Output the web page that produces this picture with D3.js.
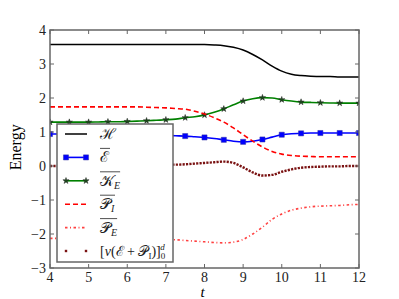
<!DOCTYPE html>
<html>
<head>
<meta charset="utf-8">
<script src="https://cdn.jsdelivr.net/npm/d3@7"></script>
<style>
  body { margin: 0; background: #fff; }
</style>
</head>
<body>
<svg id="chart" width="399" height="299" font-family="'Liberation Serif', 'DejaVu Serif', serif"></svg>
<script>
var tValues = [4, 4.25, 4.5, 4.75, 5, 5.25, 5.5, 5.75, 6, 6.25, 6.5, 6.75, 7, 7.25, 7.5, 7.75,
  8, 8.25, 8.5, 8.75, 9, 9.25, 9.5, 9.75, 10, 10.25, 10.5, 10.75, 11, 11.25, 11.5, 11.75, 12];

var hamiltonian = [3.57, 3.57, 3.57, 3.57, 3.57, 3.57, 3.57, 3.57, 3.57, 3.57, 3.57, 3.57, 3.57, 3.57, 3.57, 3.57,
  3.57, 3.56, 3.54, 3.49, 3.41, 3.28, 3.12, 2.94, 2.79, 2.70, 2.66, 2.64, 2.63, 2.63, 2.62, 2.62, 2.62];
var energyMean = [0.94, 0.94, 0.94, 0.94, 0.94, 0.94, 0.93, 0.93, 0.93, 0.93, 0.92, 0.91, 0.90, 0.89, 0.88, 0.86,
  0.84, 0.81, 0.77, 0.73, 0.71, 0.73, 0.78, 0.85, 0.92, 0.95, 0.96, 0.97, 0.97, 0.97, 0.97, 0.97, 0.97];
var kineticE = [1.29, 1.29, 1.29, 1.29, 1.29, 1.295, 1.30, 1.30, 1.31, 1.32, 1.33, 1.345, 1.36, 1.38, 1.42, 1.45,
  1.50, 1.58, 1.68, 1.80, 1.91, 1.98, 2.01, 2.00, 1.95, 1.91, 1.88, 1.87, 1.86, 1.855, 1.85, 1.85, 1.85];
var potentialI = [1.74, 1.74, 1.74, 1.74, 1.74, 1.74, 1.74, 1.74, 1.74, 1.74, 1.73, 1.72, 1.71, 1.69, 1.67, 1.61,
  1.53, 1.42, 1.29, 1.12, 0.92, 0.73, 0.56, 0.43, 0.35, 0.31, 0.29, 0.28, 0.27, 0.27, 0.27, 0.27, 0.27];
var potentialE = [-2.13, -2.13, -2.13, -2.14, -2.14, -2.14, -2.14, -2.15, -2.15, -2.15, -2.15, -2.16, -2.16, -2.17, -2.19, -2.21,
  -2.23, -2.25, -2.26, -2.24, -2.16, -2.00, -1.80, -1.57, -1.41, -1.30, -1.24, -1.20, -1.18, -1.17, -1.16, -1.14, -1.13];
var fluxTerm = [0.00, 0.00, 0.01, 0.01, 0.01, 0.01, 0.02, 0.02, 0.02, 0.03, 0.03, 0.03, 0.04, 0.04, 0.05, 0.07,
  0.09, 0.11, 0.13, 0.09, -0.04, -0.19, -0.28, -0.26, -0.17, -0.10, -0.05, -0.03, -0.02, -0.01, -0.01, 0.00, 0.00];

var xTicks = [4, 5, 6, 7, 8, 9, 10, 11, 12];
var yTicks = [-3, -2, -1, 0, 1, 2, 3, 4];

var serif = "'Liberation Serif', 'DejaVu Serif', serif";
var svg = d3.select("#chart"),
  margin = {left: 50, top: 30, right: 40, bottom: 31},
  width = 399 - margin.left - margin.right,
  height = 299 - margin.top - margin.bottom;

var x = d3.scaleLinear().domain([4, 12]).range([margin.left, margin.left + width]);
var y = d3.scaleLinear().domain([-3, 4]).range([margin.top + height, margin.top]);

function series(vals) {
  return vals.map(function(v, i) { return {t: tValues[i], v: v}; });
}

var line = d3.line()
  .x(function(d) { return x(d.t); })
  .y(function(d) { return y(d.v); })
  .curve(d3.curveMonotoneX);

svg.append("clipPath").attr("id", "clip").append("rect")
  .attr("x", margin.left).attr("y", margin.top).attr("width", width).attr("height", height);
var plot = svg.append("g").attr("clip-path", "url(#clip)");

var squareMark = d3.symbol().type(d3.symbolSquare).size(26),
  starMark = d3.symbol().type(d3.symbolStar).size(12);

plot.append("path").datum(series(hamiltonian)).attr("d", line)
  .attr("fill", "none").attr("stroke", "#000").attr("stroke-width", 1.5);

plot.append("path").datum(series(energyMean)).attr("d", line)
  .attr("fill", "none").attr("stroke", "#0000ff").attr("stroke-width", 1.6);
plot.selectAll(".sq").data(series(energyMean).filter(function(d, i) { return i % 2 == 0; }))
  .enter().append("path").attr("class", "sq")
  .attr("d", squareMark)
  .attr("transform", function(d) { return "translate(" + x(d.t) + "," + y(d.v) + ")"; })
  .attr("fill", "#0000ff").attr("stroke", "#3030a0").attr("stroke-width", 0.5);

plot.append("path").datum(series(kineticE)).attr("d", line)
  .attr("fill", "none").attr("stroke", "#008000").attr("stroke-width", 1.6);
plot.selectAll(".star").data(series(kineticE).filter(function(d, i) { return i % 2 == 0; }))
  .enter().append("path").attr("class", "star")
  .attr("d", starMark)
  .attr("transform", function(d) { return "translate(" + x(d.t) + "," + y(d.v) + ")"; })
  .attr("fill", "#1a4a1a").attr("stroke", "#222").attr("stroke-width", 0.5);

plot.append("path").datum(series(potentialI)).attr("d", line)
  .attr("fill", "none").attr("stroke", "#ff0000").attr("stroke-width", 1.6)
  .attr("stroke-dasharray", "5,3");

plot.append("path").datum(series(potentialE)).attr("d", line)
  .attr("fill", "none").attr("stroke", "#ff2020").attr("stroke-opacity", 0.85)
  .attr("stroke-width", 1.6).attr("stroke-dasharray", "2.5,2.5,1,2.5");

plot.append("path").datum(series(fluxTerm)).attr("d", line)
  .attr("fill", "none").attr("stroke", "#7a1212").attr("stroke-width", 2.4)
  .attr("stroke-dasharray", "2.2,1.2");

// frame and ticks
var axisColor = "#666";
svg.append("rect").attr("x", margin.left).attr("y", margin.top)
  .attr("width", width).attr("height", height)
  .attr("fill", "none").attr("stroke", axisColor).attr("stroke-width", 1.5);

var ticks = svg.append("g").attr("stroke", axisColor).attr("stroke-width", 1);
xTicks.forEach(function(t) {
  ticks.append("line").attr("x1", x(t)).attr("x2", x(t))
    .attr("y1", margin.top + height).attr("y2", margin.top + height - 4);
  ticks.append("line").attr("x1", x(t)).attr("x2", x(t))
    .attr("y1", margin.top).attr("y2", margin.top + 4);
});
yTicks.forEach(function(v) {
  ticks.append("line").attr("x1", margin.left).attr("x2", margin.left + 4)
    .attr("y1", y(v)).attr("y2", y(v));
  ticks.append("line").attr("x1", margin.left + width).attr("x2", margin.left + width - 4)
    .attr("y1", y(v)).attr("y2", y(v));
});

svg.selectAll(".xl").data(xTicks).enter().append("text")
  .attr("font-family", serif)
  .attr("x", function(d) { return x(d); }).attr("y", margin.top + height + 14)
  .attr("text-anchor", "middle").attr("font-size", 14).attr("fill", "#222")
  .text(function(d) { return d; });
svg.selectAll(".yl").data(yTicks).enter().append("text")
  .attr("font-family", serif)
  .attr("x", margin.left - 4).attr("y", function(d) { return y(d) + 5; })
  .attr("text-anchor", "end").attr("font-size", 14).attr("fill", "#222")
  .text(function(d) { return d < 0 ? "\u2212" + Math.abs(d) : d; });

svg.append("text").attr("font-family", serif).attr("x", x(7.95)).attr("y", 297)
  .attr("text-anchor", "middle").attr("font-size", 15).attr("font-style", "italic")
  .text("t");
svg.append("text").attr("font-family", serif)
  .attr("transform", "translate(21," + y(0.55) + ") rotate(-90)")
  .attr("text-anchor", "middle").attr("font-size", 16).text("Energy");

// legend
var legend = svg.append("g");
legend.append("rect").attr("x", 57).attr("y", 124).attr("width", 116).attr("height", 138)
  .attr("fill", "#fff").attr("stroke", axisColor).attr("stroke-width", 1.5);

var legendItems = [
  {main: "\u210B", sub: "", over: false},
  {main: "\u2130", sub: "", over: true},
  {main: "\uD835\uDCA6", sub: "E", over: true},
  {main: "\uD835\uDCAB", sub: "I", over: true},
  {main: "\uD835\uDCAB", sub: "E", over: true},
  {main: "", sub: "", over: false}
];
var rowY = d3.scaleLinear().domain([0, 5]).range([134, 251]);

legendItems.forEach(function(item, i) {
  var yy = rowY(i), g = legend.append("g");
  if (i == 0) {
    g.append("line").attr("x1", 65).attr("x2", 87).attr("y1", yy).attr("y2", yy)
      .attr("stroke", "#000").attr("stroke-width", 1.5);
  } else if (i == 1) {
    g.append("line").attr("x1", 66).attr("x2", 86).attr("y1", yy).attr("y2", yy)
      .attr("stroke", "#0000ff").attr("stroke-width", 1.6);
    [66, 86].forEach(function(px) {
      g.append("path").attr("d", squareMark)
        .attr("transform", "translate(" + px + "," + yy + ")")
        .attr("fill", "#0000ff").attr("stroke", "#3030a0").attr("stroke-width", 0.5);
    });
  } else if (i == 2) {
    g.append("line").attr("x1", 66).attr("x2", 86).attr("y1", yy).attr("y2", yy)
      .attr("stroke", "#008000").attr("stroke-width", 1.6);
    [66, 86].forEach(function(px) {
      g.append("path").attr("d", starMark)
        .attr("transform", "translate(" + px + "," + yy + ")")
        .attr("fill", "#1a4a1a").attr("stroke", "#222").attr("stroke-width", 0.5);
    });
  } else if (i == 3) {
    g.append("line").attr("x1", 65).attr("x2", 87).attr("y1", yy).attr("y2", yy)
      .attr("stroke", "#ff0000").attr("stroke-width", 1.6).attr("stroke-dasharray", "5,3");
  } else if (i == 4) {
    g.append("line").attr("x1", 65).attr("x2", 87).attr("y1", yy).attr("y2", yy)
      .attr("stroke", "#ff2020").attr("stroke-opacity", 0.85).attr("stroke-width", 1.6)
      .attr("stroke-dasharray", "2.5,2.5,1,2.5");
  } else {
    [66, 86].forEach(function(px) {
      g.append("rect").attr("x", px - 1.2).attr("y", yy - 1.2).attr("width", 2.4).attr("height", 2.4)
        .attr("fill", "#7a1212");
    });
  }

  var label = g.append("text").attr("font-family", serif)
    .attr("x", 100).attr("y", yy + 5).attr("font-size", 15).attr("fill", "#222");
  if (i < 5) {
    label.append("tspan").text(item.main);
    if (item.sub) {
      label.append("tspan").attr("font-size", 10).attr("font-style", "italic").attr("dy", 3).text(item.sub);
    }
    if (item.over) {
      var bb = label.node().getBBox();
      g.append("line").attr("x1", bb.x).attr("x2", bb.x + bb.width)
        .attr("y1", yy - 9).attr("y2", yy - 9).attr("stroke", "#222").attr("stroke-width", 0.8);
    }
  } else {
    label.attr("font-size", 14);
    label.append("tspan").text("[");
    label.append("tspan").attr("font-style", "italic").text("v");
    label.append("tspan").text("(\u2130 + \uD835\uDCAB");
    label.append("tspan").attr("font-size", 9).attr("dy", 3).text("I");
    label.append("tspan").attr("dy", -3).text(")]");
    label.append("tspan").attr("font-size", 9).attr("dy", 3).text("0");
    label.append("tspan").attr("font-size", 9).attr("font-style", "italic").attr("dx", -5).attr("dy", -9).text("d");
  }
});
</script>
</body>
</html>
